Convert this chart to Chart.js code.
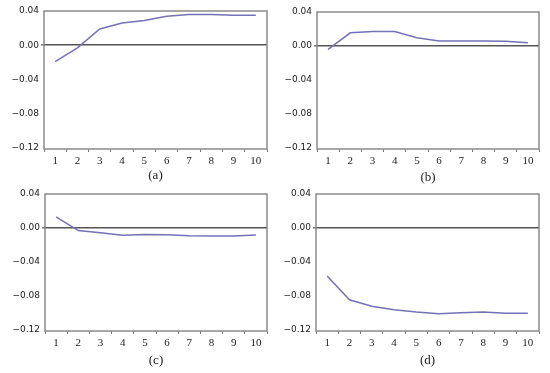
<!DOCTYPE html>
<html lang="en">
  <head>
    <meta charset="UTF-8" />
    <title>Impulse responses</title>
    <script src="https://cdn.jsdelivr.net/npm/chart.js"></script>
    <style>
      body {
        margin: 0;
        background: #ffffff;
      }
      #wrap {
        position: relative;
        width: 550px;
        height: 373px;
        overflow: hidden;
      }
      .panel {
        position: absolute;
      }
    </style>
  </head>
  <body>
    <div id="wrap">
      <div class="panel" style="left: 0px; top: 0px"><canvas id="chartA" width="275" height="186"></canvas></div>
      <div class="panel" style="left: 275px; top: 0px"><canvas id="chartB" width="275" height="186"></canvas></div>
      <div class="panel" style="left: 0px; top: 183px"><canvas id="chartC" width="275" height="186"></canvas></div>
      <div class="panel" style="left: 275px; top: 183px"><canvas id="chartD" width="275" height="186"></canvas></div>
    </div>

    <script>
      // periods after the shock
      const horizons = ["1", "2", "3", "4", "5", "6", "7", "8", "9", "10"];

      // responses
      const respA = [-0.019, -0.003, 0.019, 0.026, 0.029, 0.034, 0.036, 0.036, 0.035, 0.035];
      const respB = [-0.004, 0.0155, 0.017, 0.017, 0.0097, 0.006, 0.006, 0.006, 0.0055, 0.004];
      const respC = [0.013, -0.003, -0.0055, -0.0086, -0.0075, -0.0078, -0.009, -0.0094, -0.0094, -0.0082];
      const respD = [-0.0563, -0.0843, -0.092, -0.096, -0.0986, -0.1006, -0.0995, -0.0986, -0.1, -0.1];

      const yTicks = [-0.12, -0.08, -0.04, 0, 0.04];
      const panelLabels = ["(a)", "(b)", "(c)", "(d)"];

      // draws the grey box round the plot area
      const frame = {
        id: "frame",
        afterDraw(chart) {
          const a = chart.chartArea;
          const ctx = chart.ctx;
          ctx.save();
          ctx.strokeStyle = "#8a8a8a";
          ctx.lineWidth = 1.5;
          ctx.strokeRect(a.left, a.top, a.right - a.left, a.bottom - a.top);
          ctx.restore();
        },
      };

      function makePanel(id, data, label, box, titlePad) {
        const ctx = document.getElementById(id).getContext("2d");
        return new Chart(ctx, {
          type: "line",
          data: {
            labels: horizons,
            datasets: [
              {
                data: data,
                borderColor: "#7471b6",
                borderWidth: 1.5,
                pointRadius: 0,
                tension: 0,
                fill: false,
              },
            ],
          },
          options: {
            responsive: false,
            animation: false,
            events: [],
            layout: {
              padding: { left: 0, top: box.top, right: 275 - box.right, bottom: 1 },
            },
            plugins: {
              legend: { display: false },
              tooltip: { enabled: false },
            },
            scales: {
              x: {
                offset: true,
                grid: {
                  offset: true,
                  drawOnChartArea: false,
                  drawTicks: true,
                  tickLength: 3,
                  tickColor: "#777",
                },
                border: { display: false },
                ticks: {
                  color: "#222",
                  padding: 3,
                  maxRotation: 0,
                  autoSkip: false,
                  font: { family: "Liberation Serif", size: 11 },
                },
                title: {
                  display: true,
                  text: label,
                  color: "#222",
                  padding: { top: 0, bottom: titlePad },
                  font: { family: "Liberation Serif", size: 13 },
                },
                afterFit(scale) {
                  scale.height = 186 - 1 - box.bottom;
                },
              },
              y: {
                min: -0.121,
                max: 0.04,
                afterBuildTicks(scale) {
                  scale.ticks = yTicks.map((v) => ({ value: v }));
                },
                grid: {
                  drawTicks: true,
                  tickLength: 3,
                  tickColor: "#777",
                  color: (c) => (c.tick && c.tick.value === 0 ? "#555" : "rgba(0,0,0,0)"),
                  lineWidth: (c) => (c.tick && c.tick.value === 0 ? 1.6 : 0),
                },
                border: { display: false },
                ticks: {
                  color: "#222",
                  padding: 2,
                  font: { family: "DejaVu Sans", size: 9 },
                  callback: (v) => (Math.abs(v) < 1e-9 ? "0.00" : v.toFixed(2).replace("-", "\u2212")),
                },
                afterFit(scale) {
                  scale.width = box.left;
                },
              },
            },
          },
          plugins: [frame],
        });
      }

      makePanel("chartA", respA, panelLabels[0], { left: 44, right: 267, top: 11, bottom: 149 }, 2);
      makePanel("chartB", respB, panelLabels[1], { left: 42, right: 264, top: 12, bottom: 149 }, 0);
      makePanel("chartC", respC, panelLabels[2], { left: 45, right: 267, top: 11, bottom: 148 }, 0);
      makePanel("chartD", respD, panelLabels[3], { left: 41, right: 264, top: 11, bottom: 148 }, 0);
    </script>
  </body>
</html>
